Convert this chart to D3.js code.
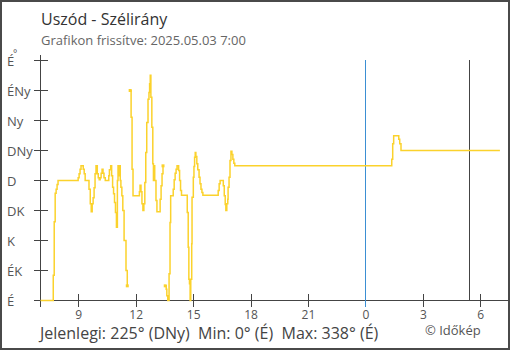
<!DOCTYPE html>
<html>
<head>
<meta charset="utf-8">
<script src="https://cdn.jsdelivr.net/npm/d3@7"></script>
<style>
  body { margin: 0; background: #fff; }
  svg { display: block; font-family: "Open Sans", sans-serif; }
  text { white-space: pre; }
</style>
</head>
<body>
<div id="chart"></div>
<script>
// minutes after 2025.05.02 07:00, wind direction in degrees (null = no data)
var minutes = [0, 40, 43, 46, 49, 52, 55, 118, 121, 124, 127, 134, 137, 140, 152, 156, 159, 162, 165, 168,
    171, 174, 178, 181, 184, 187, 190, 193, 196, 199, 203, 214, 216, 220, 223, 226, 229, 232, 235, 238,
    241, 243, 246, 248, 250, 252, 255, 258, 262, 268, 272, 276, 281, 284, 287, 290, 310, 312, 315, 318,
    321, 324, 327, 330, 333, 337, 340, 342, 344, 346, 349, 352, 354, 356, 358, 362, 365, 375, 378, 381,
    384, 387, 391, 394, 396, 399, 403, 406, 408, 416, 419, 422, 425, 428, 433, 436, 439, 442, 460, 463,
    465, 467, 469, 471, 474, 475, 479, 481, 483, 485, 487, 490, 493, 497, 500, 503, 506, 509, 557, 560,
    563, 573, 576, 579, 581, 584, 587, 588, 591, 594, 597, 600, 603, 606, 609, 1101, 1104, 1107, 1123, 1126,
    1130, 1440]
var degrees = [0, 38, 118, 161, 167, 174, 180, 184, 190, 197, 202, 197, 190, 180, 167, 145, 133, 145, 154, 169,
    190, 202, 190, 184, 181, 184, 191, 197, 191, 184, 180, 187, 196, 202, 187, 170, 160, 147, 132, 110,
    180, 202, 187, 202, 180, 170, 157, 135, 90, 45, 22, null, 315, 275, 197, 157, 163, 173, 163, 145,
    135, 145, 177, 222, 267, 302, 312, 325, 338, 305, 260, 205, 180, 202, 180, 150, 133, 152, 172, 190,
    202, null, 22, 17, 7, 0, 40, 117, 157, 167, 181, 191, 197, 202, 195, 180, 165, 158, 132, 80,
    32, 25, 0, 32, 85, 155, 185, 201, 215, 222, 216, 205, 196, 185, 175, 167, 162, 158, 165, 175,
    180, 172, 157, 144, 135, 145, 152, 170, 185, 210, 224, 219, 212, 206, 202, 212, 235, 247, 242, 235,
    225, 225]

var dirLabels = ["É", "ÉK", "K", "DK", "D", "DNy", "Ny", "ÉNy", "É"]
var hourTicks = [120, 300, 480, 660, 840, 1020, 1200, 1380]
var hourLabels = ["9", "12", "15", "18", "21", "0", "3", "6"]
var midnightMin = 1020
var sunriseMin = 1344

var title = "Uszód - Szélirány"
var subtitle = "Grafikon frissítve: 2025.05.03 7:00"
var footer = "Jelenlegi: 225° (DNy)  Min: 0° (É)  Max: 338° (É)"
var credit = "© Időkép"

var W = 510, H = 350
var axisColor = "#444", labelColor = "#555", lineColor = "#fbd22c"

var svg = d3.select("#chart").append("svg")
    .attr("width", W)
    .attr("height", H)

svg.append("rect")
    .attr("x", 1).attr("y", 1)
    .attr("width", W - 2).attr("height", H - 2)
    .attr("fill", "#fff")
    .attr("stroke", "#4a4a4a")
    .attr("stroke-width", 2)

var x = d3.scaleLinear().domain([0, 1440]).range([40.5, 499.9])
var y = d3.scaleLinear().domain([0, 360]).range([300.5, 60.5])

// titles
svg.append("text").attr("x", 41).attr("y", 25)
    .attr("font-size", 16).attr("fill", "#333").text(title)
svg.append("text").attr("x", 41).attr("y", 45)
    .attr("font-size", 13).attr("fill", "#666").text(subtitle)

// y axis
svg.append("line")
    .attr("x1", 40.5).attr("x2", 40.5).attr("y1", 55).attr("y2", 307)
    .attr("stroke", axisColor)
var yTicks = svg.append("g").selectAll("g")
    .data(d3.range(0, 361, 45))
  .enter().append("g")
yTicks.append("line")
    .attr("x1", 34).attr("x2", 48)
    .attr("y1", function(d) { return Math.round(y(d) - 0.5) + 0.5 })
    .attr("y2", function(d) { return Math.round(y(d) - 0.5) + 0.5 })
    .attr("stroke", axisColor)
yTicks.append("text")
    .attr("x", 7)
    .attr("y", function(d) { return y(d) + 5 })
    .attr("font-size", 13).attr("fill", labelColor)
    .text(function(d, i) { return dirLabels[i] })
svg.append("text").attr("x", 13).attr("y", 57)
    .attr("font-size", 10).attr("fill", labelColor).text("°")

// x axis
svg.append("line")
    .attr("x1", 40.5).attr("x2", 508.5).attr("y1", 300.5).attr("y2", 300.5)
    .attr("stroke", axisColor)
var xTicks = svg.append("g").selectAll("g")
    .data(hourTicks)
  .enter().append("g")
xTicks.append("line")
    .attr("x1", function(d) { return Math.round(x(d) - 0.5) + 0.5 })
    .attr("x2", function(d) { return Math.round(x(d) - 0.5) + 0.5 })
    .attr("y1", 294).attr("y2", 307)
    .attr("stroke", axisColor)
xTicks.append("text")
    .attr("x", function(d) { return x(d) })
    .attr("y", 319)
    .attr("text-anchor", "middle")
    .attr("font-size", 12).attr("fill", labelColor)
    .text(function(d, i) { return hourLabels[i] })

// midnight and sunrise lines
svg.append("line")
    .attr("x1", Math.round(x(midnightMin) - 0.5) + 0.5).attr("x2", Math.round(x(midnightMin) - 0.5) + 0.5)
    .attr("y1", 60).attr("y2", 307)
    .attr("stroke", "#3b8fd3")
svg.append("line")
    .attr("x1", Math.round(x(sunriseMin) - 0.5) + 0.5).attr("x2", Math.round(x(sunriseMin) - 0.5) + 0.5)
    .attr("y1", 60).attr("y2", 300)
    .attr("stroke", axisColor)

// wind direction line
var points = minutes.map(function(m, i) { return { m: m, v: degrees[i] } })
var line = d3.line()
    .defined(function(d) { return d.v !== null })
    .x(function(d) { return x(d.m) })
    .y(function(d) { return y(d.v) })
    .curve(d3.curveStepAfter)

svg.append("path")
    .datum(points)
    .attr("d", line)
    .attr("fill", "none")
    .attr("stroke", lineColor)
    .attr("stroke-width", 1.5)

// markers at ends next to missing data
var edges = points.filter(function(d, i) {
    if (d.v === null) return false
    var prev = points[i - 1], next = points[i + 1]
    return (prev && prev.v === null) || (next && next.v === null)
})
svg.append("g").selectAll("rect")
    .data(edges)
  .enter().append("rect")
    .attr("x", function(d) { return x(d.m) - 1.5 })
    .attr("y", function(d) { return y(d.v) - 1.5 })
    .attr("width", 3).attr("height", 3)
    .attr("fill", lineColor)

// footer
svg.append("text").attr("x", 40).attr("y", 339)
    .attr("font-size", 16).attr("fill", "#444").text(footer)
svg.append("text").attr("x", 425).attr("y", 335)
    .attr("font-size", 13).attr("fill", "#555").text(credit)
</script>
</body>
</html>
